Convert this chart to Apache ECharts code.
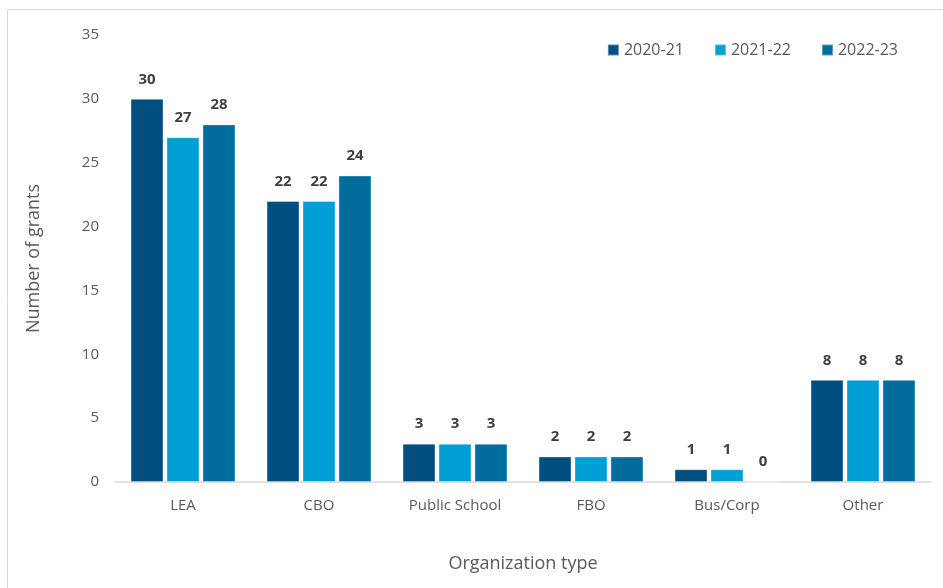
<!DOCTYPE html>
<html>
<head>
<meta charset="utf-8">
<script src="https://cdn.jsdelivr.net/npm/echarts@6/dist/echarts.min.js"></script>
<style>
  html, body { margin: 0; padding: 0; background: #fff; }
  #chart { width: 943px; height: 588px; }
</style>
</head>
<body>
<div id="chart"></div>
<script>
// Grants by organization type, three school years
const categories = ['LEA', 'CBO', 'Public School', 'FBO', 'Bus/Corp', 'Other'];
const seriesNames = ['2020-21', '2021-22', '2022-23'];
const grants2020 = [30, 22, 3, 2, 1, 8];
const grants2021 = [27, 22, 3, 2, 1, 8];
const grants2022 = [28, 24, 3, 2, 0, 8];
const colors = ['#004f7f', '#009fd6', '#006d9c'];

const FONT = '"Open Sans", "Noto Sans", sans-serif';
const values = [grants2020, grants2021, grants2022];

const chart = echarts.init(document.getElementById('chart'), null, { renderer: 'canvas' });

const series = seriesNames.map((name, i) => ({
  name: name,
  type: 'bar',
  data: values[i],
  barWidth: 33,
  barGap: '9%',
  itemStyle: {
    color: colors[i],
    borderColor: 'rgba(255,255,255,0.35)',
    borderWidth: 1
  },
  label: {
    show: true,
    position: 'top',
    distance: 12,
    fontFamily: FONT,
    fontSize: 15,
    fontWeight: 'bold',
    color: '#404040'
  }
}));

chart.setOption({
  animation: false,
  color: colors,
  graphic: [{
    type: 'rect',
    shape: { x: 7.5, y: 9.5, width: 960, height: 600 },
    style: { fill: 'none', stroke: '#d9d9d9', lineWidth: 1 },
    silent: true
  }],
  legend: {
    right: 40,
    top: 37,
    itemWidth: 11,
    itemHeight: 11,
    itemGap: 30,
    icon: 'rect',
    textStyle: { fontFamily: FONT, fontSize: 16, color: '#595959' },
    data: seriesNames
  },
  grid: {
    left: 115,
    right: 12,
    top: 35,
    bottom: 106,
    containLabel: false
  },
  xAxis: {
    type: 'category',
    data: categories,
    name: 'Organization type',
    nameLocation: 'middle',
    nameGap: 73,
    nameTextStyle: { fontFamily: FONT, fontSize: 18, color: '#595959' },
    axisLine: { lineStyle: { color: '#d9d9d9', width: 1.5 } },
    axisTick: { show: false },
    axisLabel: { fontFamily: FONT, fontSize: 15, color: '#595959', margin: 16 }
  },
  yAxis: {
    type: 'value',
    min: 0,
    max: 35,
    interval: 5,
    name: 'Number of grants',
    nameLocation: 'middle',
    nameGap: 72,
    nameRotate: 90,
    nameTextStyle: { fontFamily: FONT, fontSize: 18, color: '#595959' },
    axisLine: { show: false },
    axisTick: { show: false },
    splitLine: { show: false },
    axisLabel: { fontFamily: FONT, fontSize: 15, color: '#595959', margin: 16 }
  },
  series: series
});
</script>
</body>
</html>
